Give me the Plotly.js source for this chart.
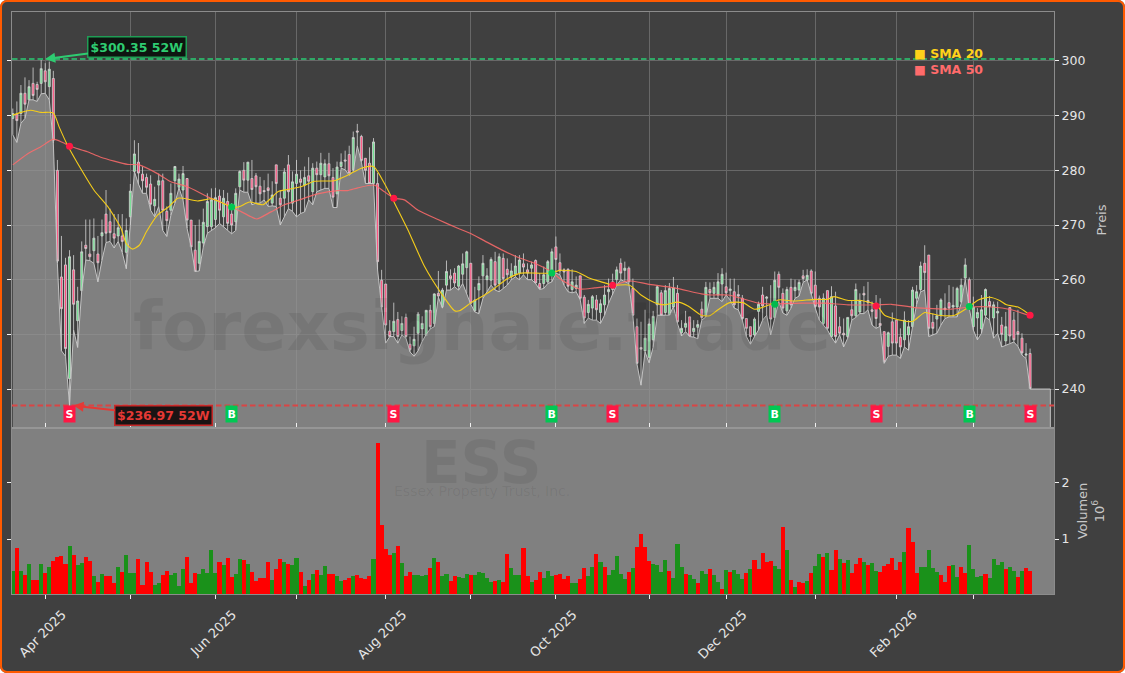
<!DOCTYPE html>
<html><head><meta charset="utf-8">
<script src="https://cdn.plot.ly/plotly-3.0.1.min.js"></script>
<style>
html,body{margin:0;padding:0;background:#fff;width:1125px;height:673px;overflow:hidden}
#chart{position:absolute;left:0;top:0;width:1125px;height:673px;border-radius:7px;overflow:hidden}
#frame{position:absolute;left:0;top:0;width:1125px;height:673px;box-sizing:border-box;border:2.5px solid #ff5a00;border-radius:7px;pointer-events:none}
</style></head><body>
<div id="chart"></div><div id="frame"></div>
<script>
const opens=[289.5,290.3,290.4,294.1,292.9,295.9,295.7,295.9,298.2,295.3,296.8,280,260.5,262.7,241.9,261.8,252.5,258,266.3,264.7,265.3,264.7,268,272,270.6,268.4,268,268,265,271.5,279.8,281.5,279.3,278.7,277.5,273.5,277.3,278.1,272.5,272.7,278.1,276.9,276.4,278.5,270.9,265.4,263,266.7,269.7,269.7,271,275.3,271.5,274.3,272,270.6,277,280,278.2,
278.5,279,277.1,276.3,276.8,274,281,274.9,274.9,281,274,277.6,278.4,277.3,279,276.1,280.4,279.2,278.8,281.2,278.7,275.7,280.7,281.9,282.9,280.1,287.2,286.2,282.2,281.3,277.6,277.6,259.9,259.2,250.6,250.5,252.7,250.7,253.1,248.2,247.9,250.2,251,249.8,254.4,252,257.5,255,259,260.7,261.2,258.8,261,262.2,263,254.3,258.1,260.7,260,259.9,263.3,
259.3,263.9,261.9,260.5,261,261.2,262.9,261.8,262.1,263.5,259.3,259.3,259.6,261.2,266,263.1,261.8,261.9,258.2,258.4,260.7,256.8,254,254.8,256.3,254,255.4,257.8,258.2,260,263,261.7,262.1,258.4,251.4,247.6,247,245.8,249,255.4,257.6,254,253.6,255,257.5,250.3,251.3,253.2,250.5,251.3,
254.6,253.4,258.2,257.5,257.2,259.2,258.7,258,257.8,257.3,256.6,252.9,251.4,249.9,254.2,257.2,256.6,255.4,253.1,261,257.5,254.3,258.6,258,258.1,260.7,259.9,261.6,259,256.6,252,258,249.6,255.2,251.4,250.2,249.6,254.5,253.4,254.1,257.5,256.2,254.5,255,252,250.5,247.8,
252.3,252.6,249.5,249,249.9,251.4,256.6,258.2,263,264.5,252.2,252.8,253.4,254.8,255.8,255,255,256,260.3,260,251.4,253,251,253.5,256,253,253.9,251.7,248.8,254.9,252.6,250.5,249.3,246.2,246.5];
const highs=[291.3,292.6,295.6,297,296.5,298.8,296.2,300.3,299.6,299.9,298.2,281.9,268,264,265.4,264.5,258.7,267,271,271,271.2,268,271,276.4,273,272,272,272,271.2,277.5,285.5,285,280.7,279.4,279.1,277,279.4,279.4,273.4,277.6,280.8,279.4,280.8,278.6,270.9,270,271,273,275.8,276.7,276.8,276.5,276.4,275.9,274,276.7,280,281.5,281.5,
281.9,279.5,278.8,278.2,279.4,278,281,276.4,280.4,282.8,279.8,281.9,280,280.7,282.4,281.3,281.6,283.2,282,283.2,280.4,281.6,283.1,283.6,284.5,287.1,288.5,286.5,282.2,284.2,285.9,279.5,261.8,259.2,252.6,255.8,254.1,253.3,253.8,249.6,251.4,254.1,253.3,254.4,255.4,257.5,261.6,258.5,263.5,261.9,262.1,262.7,264.8,265.3,263,258.7,260.6,264.5,262.1,264.1,265.1,
264.8,264.8,263.9,263,264.5,264.5,264.8,263,263.3,263.7,261.2,262.4,263.6,265.7,267.9,264.8,262.1,262.1,261.9,260.6,260.7,257.2,256.3,257.2,257.2,256.4,259,260.2,261.1,262.4,263.9,263.3,262.4,260.2,252.9,252.3,254.5,252.9,254.3,258.9,258.1,259,259.4,260.5,259,252.6,254.3,253.2,252.6,252.6,
256,259.6,259.5,259.6,261.2,262.1,261.3,260.2,260.2,259,257.2,252.9,251.4,253.1,256,258.7,257,259,261.5,261.5,258.4,258.7,260.2,260,260,261.8,261.9,261.9,261.5,257.1,257.5,258,258.8,257.8,253.2,252.9,253.1,256.2,259.3,257.5,258.8,259.6,256,257.2,256.6,250.5,250.5,
254,252.6,251.1,254.2,252.6,258.7,259,263.3,266.3,264.5,253.8,255.4,256.6,257.5,259,258.7,258.7,260.2,263.9,260.4,256.9,254.8,257.2,258.4,257,256,256,253.2,254.1,254.9,254.1,254.5,250.2,248.4,247.4];
const lows=[286.5,285.1,288.6,289.5,292.9,292.9,292.6,294,294.1,292.9,285,263,247,246,237,250.8,247.6,258,263.6,263.5,263,259.6,263.6,266.8,267,265.8,267,265,262,270,279.8,277.5,275.8,275.8,272.7,271.5,273.4,269,267.9,271.8,274,276.8,274.6,269.4,266,261.5,261.6,266,268.5,269,269.5,270.3,269.7,269.1,268.4,269,276.4,276,276,
273.7,274,274,274.6,273.4,273.5,273.4,270,271.5,273,272.5,271.5,272.1,272.4,274.6,273.7,276.1,276.4,276.7,276.7,273.2,273.2,280.4,280.1,279.1,279.8,284.5,281.5,277.6,277.6,277.6,261.8,255,248.4,249.6,249.6,248.4,249.9,249.3,246.8,246,247,248.7,250,251,251.4,256.8,254.8,258.1,258.1,258.7,258.1,259.3,257.5,255.5,254.1,253.8,256.6,257.8,259,258.1,
257.8,258.4,259,260,260.5,260,260.9,260,260,259.3,258.2,258.4,259.3,259.6,261.2,260.9,259,257.8,257.6,257.8,256.3,252,253,252.6,252.6,252,253.5,255.7,257.2,259,260,259.6,259.3,253.4,244.6,240.7,246.8,244.8,247.7,253.5,253.5,253.5,253.5,255.1,252,249.7,250.5,249.6,249.5,249.2,
252.6,253.2,256.6,256.6,256.6,256,257.2,256.3,254.8,254.5,252.6,249.6,248.2,249.6,250.8,252.6,253.5,249.9,253.1,256,253.9,253.5,254.8,256.6,257,259.5,260,257.2,254.8,252.6,251.7,250.8,249.5,248.4,249.9,247.7,249.3,252.6,253.1,253.8,253.8,254.5,251.7,251.1,251.5,244.7,246,
246.2,246.2,245.6,247.7,247.1,251.4,255.5,257.8,258.1,249.6,249.9,250.2,251.7,252.9,253.2,253.2,253.2,255.7,260,254.8,250.8,249,250.2,253.2,252.6,249.3,250.2,247.7,248,248.4,248.6,247.8,246.2,245.6,240];
const closes=[290.4,289.1,294.1,292.1,295.3,293.7,294.8,298.6,296.2,298.5,285.5,263.4,254.7,247.4,264.2,255.5,256.1,265.1,265.7,264.2,267.6,263.1,268.6,268.5,268.6,267.6,269.5,267,269,276.2,283,279.5,278.1,276.9,273.8,274.7,278.1,272.7,270.8,275.8,280.7,278.4,279.4,270.9,266,261.5,267,270.5,274.3,274.6,275,272.7,274.9,270.3,270,275.8,279.8,278.2,281.5,
276.5,277,275.7,276.1,276.3,275.5,277.6,273.7,279.7,276.1,277.9,279.3,277.8,278.7,278,280.4,279.2,281.3,281.2,279,275.1,280.6,281.5,281.7,279.5,286,287,281.8,280,277.6,285.2,263.3,255,251.7,249.6,252.4,249.6,252,249.6,247.2,249.1,253.7,252,254.4,251.4,257.4,257,258.1,261.5,260.2,259.4,262.5,262.9,265.1,255.7,256.3,259.3,263,260.7,263.7,259,
264.2,260.2,260.9,261.6,262.5,263.6,262.3,261.2,262.7,259.4,258.4,260.9,263.3,265.1,263.7,261.6,261.4,258.8,259.6,259,256.6,253,255.5,256.9,254.5,255.6,257.2,258.2,259.6,261.8,261.2,262.1,259.6,253.5,244.7,247.3,249.3,251.9,253.3,258.7,253.5,258,258.4,258.5,252.3,251.1,252,249.7,251.1,251.8,
253.1,258.6,257.6,258.6,259.6,261,257.6,258.3,255.4,257,252.9,251.1,249.6,252.8,255.5,255.2,256.8,252.8,259.9,258.6,254.8,258.2,255.4,258.6,259.5,260.2,260.8,257.5,255.1,255,256.6,251.1,256.9,249.6,250.2,249.9,253.1,253.4,258.2,256.2,257.2,255.8,254.2,252.9,251.6,245,250.3,
248.4,248.4,247.7,252.6,251.4,258.1,257.8,262.5,261.3,251.1,251.1,253.4,256.3,254.5,254.8,255.3,258.4,259,262.7,255.2,255,254,254.5,258.2,255.1,255.4,254.2,250,251.4,249.7,249,250,246.6,246.4,240.1];
const volumes=[.43,.84,.43,.36,.56,.27,.27,.56,.40,.50,.61,.68,.70,.56,.88,.72,.54,.57,.68,.61,.34,.23,.38,.34,.34,.22,.50,.41,.72,.40,.40,.65,.18,.59,.41,.18,.22,.36,.43,.36,.40,.16,.47,.68,.22,.40,.38,.47,.40,.81,.40,.59,.54,.66,.32,.38,.65,.63,.56,.41,.25,.31,.31,.59,.27,.47,.65,.59,.56,.54,.66,.41,
.16,.27,.38,.45,.36,.52,.38,.38,.34,.25,.27,.31,.34,.36,.31,.29,.34,.65,2.72,1.25,.82,.72,.75,.88,.57,.34,.41,.36,.36,.34,.36,.48,.66,.59,.34,.38,.25,.34,.32,.31,.38,.36,.36,.41,.40,.31,.23,.25,.27,.23,.73,.48,.36,.36,.84,.34,.23,.27,.41,.31,.43,.34,.36,.38,.29,.34,.22,.22,.29,.48,.34,.50,.73,.59,.50,.36,.45,.70,.38,.29,.41,.48,.86,1.09,.86,.61,.56,.54,.41,.63,.43,.31,.91,.50,.38,.36,.29,.22,
.43,.38,.47,.36,.23,.11,.45,.41,.45,.38,.29,.40,.47,.63,.47,.75,.59,.61,.52,.47,1.22,.81,.27,.15,.23,.22,.25,.40,.52,.73,.68,.75,.45,.81,.65,.57,.63,.40,.56,.66,.59,.54,.57,.43,.41,.52,.56,.66,.45,.59,.77,1.2,.95,.40,.50,.50,.81,.48,.41,.36,.23,.52,.54,.32,.50,.40,.90,.47,.32,.34,.38,.31,.65,.54,.59,.47,.50,.43,.32,.43,.48,.43];
const volumeDirs=("g r g r g r r g r g r r r r g r g g r r g r g r r r g r g g g r r r r g g r r g g g g r r r g g g g g r g r r g g r g r r r r r g r r g r g g r "+
"g r g r g g r r g g r r g r r r r g r r r r g r g r r g g g g r g r g g r r g g g r g g g g g r g r r g g g r r g r r g g g r r r r g g r r g g r g r g g g g g r g r r r r g g g g r g g g r g g r g g r g g "+
"r g r g g g r g r r r r r g g r g r g r r g r g g r g r r g r g r r r g r g g r r r r r r g r r r g g g g g r r r g g r r g g g g r g g g g r g g r g r r r r g r").split(" ");
const labelIndex=[8,50,92,134,176,218];
const labelTexts=["Apr 2025","Jun 2025","Aug 2025","Oct 2025","Dec 2025","Feb 2026"];
const minorIndex=[29,70,113,157,198,237];
const sma20Idx=[0,2,4.4,7,10,11.4,13.5,17,20,23.4,26.7,28,29.5,31.2,33,35.7,38.6,40.7,42,45.6,49,51.8,54.2,56,58.4,61.7,63.7,65.4,67.8,71.1,74.4,79.3,82.6,86,89,91.7,94.2,97.5,101.6,105.7,109,110.2,113.1,116.4,118.8,122.1,125.4,129.1,132.8,134.9,139,141.9,145.2,148.1,152.2,155,158.4,160.8,164.1,166.6,169.9,171.9,174,176.9,180.2,183,186.7,189,192.9,197.9,201.1,202.6,206.1,209.4,213.1,215.1,220.1,222.1,225,228.3,232.4,235.7,238.2,241,243.5,245.2,248,250.5,251];
const sma20=[290.1,290.6,291,290.6,290.5,288,284.6,280,276.4,273.4,269.4,266.6,265.6,266.3,268.8,271.8,273.4,274.9,274.9,274.4,274.8,274,273.2,273.4,274.2,273.7,274.9,276.1,276.5,277,278,278.1,279.1,280.4,280.7,277.6,274,269.1,262.4,257.5,254.3,254.3,255.8,257.2,258.4,260.2,261.2,261.2,261.2,261.7,261.5,260.4,259.6,259,259,257.2,255.8,255.4,255.9,255.2,253.5,253.4,254.5,255.8,255.8,254.6,255.4,256.3,256.1,256.4,256.4,256.9,256.2,256.2,255.4,253.5,252.4,252.4,254,253.5,253.5,254.9,256.3,256.8,256.2,255.4,255,253.8,253.5];
const sma50Idx=[0,3.6,6.9,10,12.3,14.2,18.4,21.7,28.3,31.2,35.7,39,43.1,48,53.8,58.8,60.2,63.7,67,71.1,75.2,80.2,82.6,85.1,89.2,91.7,94.2,96.6,100,104.9,109.8,113.1,116.4,120.5,124.6,128.7,132.8,135.3,139.8,143.5,148.1,151.8,156.7,163.3,169.9,172.3,176.5,179.7,183.9,188.4,194.6,200.3,206.1,213.1,216.8,222.5,231.6,236.1,241.5,246.4,251];
const sma50=[281,283,284.3,285.7,285.1,284.4,283.4,282.4,281.1,281,279.4,277.9,277,275.2,273.4,271.5,271.1,272.4,273.7,274.7,275.7,276.3,276.3,276.8,277.3,276.1,274.9,274.6,272.7,271,269.4,268.4,267.1,265.5,264.1,263,261.5,260,258.3,258.5,258.9,259.8,259.2,258.5,257.4,257.2,257.2,256.6,255.7,255.6,255.7,255.7,255.4,255.4,255.5,254.9,254.6,255,255,254.5,253.4];
const signalIdx=[14,54,94,133,148,188,213,236,251];
const signalSides=["S","B","S","B","S","B","S","B","S"];
const signalPrice=[284.4,273.3,274.9,261.2,259,255.5,255.2,255.1,253.5];
const badgeLevel=235.4;
const high52=300.35, low52=236.97, high52Idx=8, low52Idx=15;
const areaTailIdx=[256,256], areaTail=[240,225];

const idx=opens.map((_,i)=>i);
const XR=[-0.2,256.9], VR=[0.02,2.98];
const GREEN='#00c853',RED='#ff1744';
const font='"DejaVu Sans",sans-serif';
const wick='#d6d6d6';
const traces=[
 {type:'candlestick',x:idx,open:opens,high:highs,low:lows,close:closes,xaxis:'x',yaxis:'y',name:'ESS',showlegend:false,hoverinfo:'skip',whiskerwidth:0,
  increasing:{line:{color:wick,width:0.8},fillcolor:'#6fe08f'},decreasing:{line:{color:wick,width:0.8},fillcolor:'#ff4d7d'}},
 {type:'scatter',mode:'lines',x:idx.concat(areaTailIdx),y:lows.concat(areaTail),xaxis:'x',yaxis:'y',fill:'tozeroy',fillcolor:'rgba(149,149,149,0.75)',line:{color:'rgba(205,205,205,0.9)',width:1},name:'Low',showlegend:false,hoverinfo:'skip'},
 {type:'scatter',mode:'lines',x:sma50Idx,y:sma50,xaxis:'x',yaxis:'y',name:'SMA 50',line:{color:'rgba(255,107,107,0.85)',width:1.2,shape:'spline',smoothing:0.6},showlegend:false},
 {type:'scatter',mode:'lines',x:sma20Idx,y:sma20,xaxis:'x',yaxis:'y',name:'SMA 20',line:{color:'#f5cd1a',width:1.1,shape:'spline',smoothing:0.6},showlegend:false},
 {type:'scatter',mode:'markers',x:signalIdx,y:signalPrice,xaxis:'x',yaxis:'y',name:'Signal',showlegend:false,marker:{size:7,color:signalSides.map(s=>s==='S'?RED:GREEN)}},
 {type:'bar',x:[(XR[0]+XR[1])/2],y:[VR[1]],width:[XR[1]-XR[0]],xaxis:'x',yaxis:'y2',marker:{color:'#808080',line:{width:0}},name:'panel',showlegend:false,hoverinfo:'skip'},
 {type:'bar',x:idx,y:volumes,xaxis:'x',yaxis:'y2',name:'Volumen',showlegend:false,width:1,marker:{color:volumeDirs.map(d=>d==='r'?'#ff0000':'#1a911a'),line:{width:0}}}
];
const annotations=[
 {xref:'paper',yref:'paper',x:0.4508,y:0.458,text:'forexsignale.trade',showarrow:false,font:{family:font,size:67,color:'rgba(0,0,0,0.075)',weight:700},xanchor:'center',yanchor:'middle'},
 {xref:'paper',yref:'paper',x:0.4508,y:0.2247,text:'ESS',showarrow:false,font:{family:font,size:58,color:'rgba(0,0,0,0.075)',weight:700},xanchor:'center',yanchor:'middle'},
 {xref:'paper',yref:'paper',x:0.4508,y:0.1767,text:'Essex Property Trust, Inc.',showarrow:false,font:{family:font,size:14,color:'rgba(0,0,0,0.075)'},xanchor:'center',yanchor:'middle'},
 {xref:'x',yref:'y',x:high52Idx,y:high52,ax:92,ay:-12,text:'$'+high52.toFixed(2)+' 52W',showarrow:true,arrowhead:2,arrowsize:1,arrowwidth:2,arrowcolor:'#2ecc71',font:{family:font,size:12.5,color:'#2ecc71',weight:700},bgcolor:'#0e1410',bordercolor:'#1f9d55',borderwidth:1.5,borderpad:2},
 {xref:'x',yref:'y',x:low52Idx,y:low52,ax:90,ay:10,text:'$'+low52.toFixed(2)+' 52W',showarrow:true,arrowhead:2,arrowsize:1,arrowwidth:2,arrowcolor:'#e53935',font:{family:font,size:12.5,color:'#e53935',weight:700},bgcolor:'#1a1414',bordercolor:'#c62828',borderwidth:1.5,borderpad:1.5},
 {xref:'paper',yref:'paper',x:0.8639,y:0.9285,xanchor:'left',yanchor:'middle',text:'■ SMA 20',showarrow:false,font:{family:font,size:12.5,color:'#ffd21a',weight:700}},
 {xref:'paper',yref:'paper',x:0.8639,y:0.9005,xanchor:'left',yanchor:'middle',text:'■ SMA 50',showarrow:false,font:{family:font,size:12.5,color:'#ff6b6b',weight:700}}
].concat(signalIdx.map((x,i)=>({xref:'x',yref:'y',x:x,y:badgeLevel,text:signalSides[i],showarrow:false,font:{family:font,size:11,color:'#fff',weight:700},bgcolor:signalSides[i]==='S'?RED:GREEN,borderpad:1.5,xanchor:'center',yanchor:'middle'})));
const axisLine='#8c8c8c';
const layout={
 width:1125,height:673,margin:{l:12,r:71,t:12,b:79},paper_bgcolor:'#404040',plot_bgcolor:'#404040',showlegend:false,bargap:0,barmode:'overlay',
 font:{family:font,color:'#e6e6e6',size:12.5},
 xaxis:{domain:[0,1],range:XR,anchor:'y2',type:'linear',tickmode:'array',tickvals:labelIndex,ticktext:labelTexts,tickangle:-45,ticklabelshift:17,ticklabelstandoff:3,ticks:'outside',ticklen:4,tickcolor:'#f0f0f0',tickfont:{size:13,color:'#e6e6e6'},showgrid:true,gridcolor:'#686868',gridwidth:1,showline:true,linecolor:axisLine,linewidth:1,mirror:'all',zeroline:false,rangeslider:{visible:false},
  minor:{tickmode:'array',tickvals:minorIndex,ticks:'outside',ticklen:4,tickcolor:'#f0f0f0',showgrid:true,gridcolor:'#686868',gridwidth:1}},
 yaxis:{domain:[0.2852,1],range:[232.87,308.96],anchor:'x',side:'right',tick0:240,dtick:10,ticks:'outside',ticklen:4,tickcolor:'#f0f0f0',showgrid:true,gridcolor:'#686868',gridwidth:1,zeroline:false,showline:true,linecolor:axisLine,linewidth:1,mirror:'all',title:{text:'Preis',font:{size:13,color:'#c8c8c8'},standoff:12}},
 yaxis2:{domain:[0,0.2852],range:VR,anchor:'x',side:'right',tickvals:[1,2],ticktext:['1','2'],ticks:'outside',ticklen:4,tickcolor:'#f0f0f0',showgrid:false,zeroline:false,showline:true,linecolor:axisLine,linewidth:1,mirror:'all',title:{text:'Volumen<br>10<sup>6</sup>',font:{size:13,color:'#c8c8c8'},standoff:9}},
 shapes:[
  {type:'line',xref:'x',yref:'y',x0:XR[0],x1:XR[1],y0:high52,y1:high52,line:{color:'#2fa866',width:2,dash:'5.5px,3px'}},
  {type:'line',xref:'x',yref:'y',x0:XR[0],x1:XR[1],y0:low52,y1:low52,line:{color:'#d94545',width:2,dash:'5.5px,3px'}},
  {type:'line',xref:'paper',yref:'paper',x0:0,x1:1,y0:0.2852,y1:0.2852,line:{color:'#969696',width:1.8}}
 ],
 annotations:annotations
};
Plotly.newPlot('chart',traces,layout,{displayModeBar:false,staticPlot:true});
</script></body></html>
